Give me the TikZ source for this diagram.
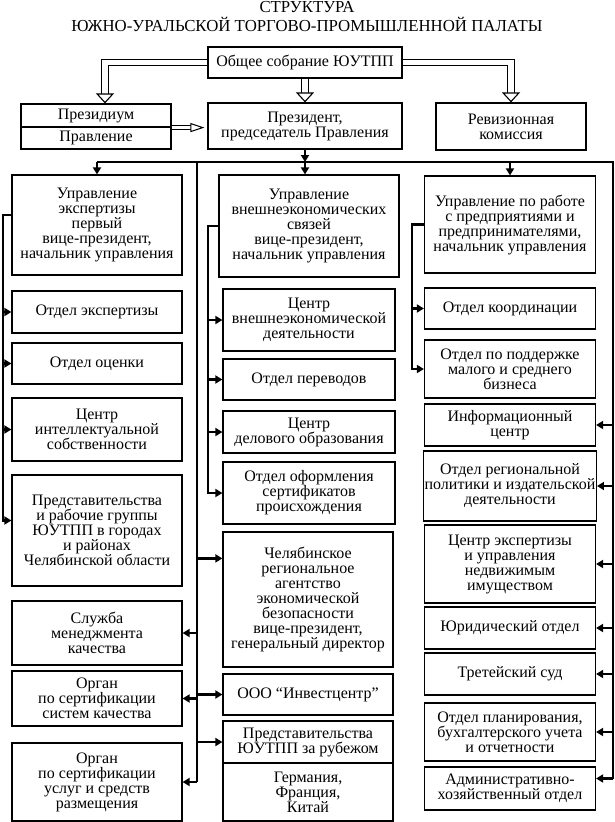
\documentclass[tikz,border=0pt]{standalone}
\usepackage{fontspec}
\setmainfont{Liberation Serif}
\usetikzlibrary{arrows.meta, calc}

\begin{document}
\begin{tikzpicture}[x=1pt, y=-1pt,
    % Style definitions
    box/.style={
        draw, line width=1.2pt, align=center, inner sep=1pt,
        font=\fontsize{16}{15}\selectfont
    },
    colbox/.style={
        box, minimum width=170pt
    },
    headbox/.style={
        box, minimum width=194pt
    },
    sidebox/.style={
        box, minimum width=150pt
    },
    titletext/.style={
        anchor=base, inner sep=0pt, font=\fontsize{16.8}{20}\selectfont
    },
    bus/.style={
        line width=2.6pt
    },
    feed/.style={
        bus, -{Triangle[length=7pt, width=8pt]}
    },
    dbl/.style={
        double, double distance=5.5pt, line width=1.1pt,
        -{Triangle[open, fill=white, line width=1.1pt, length=10pt, width=18pt]}
    },
    dblsmall/.style={
        double, double distance=3pt, line width=1pt, shorten >=3pt,
        -{Triangle[open, fill=white, line width=1pt, length=14pt, width=9pt]}
    },
]
\useasboundingbox (0,0) rectangle (615,822);

% Column positions
\def\colA{97}
\def\colB{309}
\def\colC{510}

% Rails
\coordinate (busy) at (0,162);
\coordinate (rail1) at (3,0);
\coordinate (trunk) at (197,0);
\coordinate (rail2) at (208,0);
\coordinate (rail3) at (412,0);
\coordinate (railR) at (613,0);

% === Title ===
\node[titletext] (title1) at (307,12.5) {СТРУКТУРА};
\node[titletext] (title2) at (307,31) {ЮЖНО-УРАЛЬСКОЙ ТОРГОВО-ПРОМЫШЛЕННОЙ ПАЛАТЫ};

% === Top level ===
\node[headbox, minimum height=31pt] (gen) at (305,62.5) {Общее собрание ЮУТПП};
\node[sidebox, minimum height=23pt] (prezA) at (96,115.5) {Президиум};
\node[sidebox, minimum height=22pt] (prezB) at (96,138) {Правление};
\node[headbox, minimum height=46pt] (pres) at (305,126) {Президент,\\председатель Правления};
\node[sidebox, minimum height=47pt] (rev) at (511,126.5) {Ревизионная\\комиссия};

% === Column 1 ===
\node[colbox, minimum height=100pt] (h1) at (\colA,225) {Управление\\экспертизы\\первый\\вице-президент,\\начальник управления};
\node[colbox, minimum height=42pt] (c1a) at (\colA,312) {Отдел экспертизы};
\node[colbox, minimum height=41pt] (c1b) at (\colA,363.5) {Отдел оценки};
\node[colbox, minimum height=63pt] (c1c) at (\colA,429.5) {Центр\\интеллектуальной\\собственности};
\node[colbox, minimum height=111pt] (c1d) at (\colA,530.5) {Представительства\\и рабочие группы\\ЮУТПП в городах\\и районах\\Челябинской области};
\node[colbox, minimum height=64pt] (c1e) at (\colA,633) {Служба\\менеджмента\\качества};
\node[colbox, minimum height=55pt] (c1f) at (\colA,698.5) {Орган\\по сертификации\\систем качества};
\node[colbox, minimum height=78pt] (c1g) at (\colA,782) {Орган\\по сертификации\\услуг и средств\\размещения};

% === Column 2 ===
\node[colbox, minimum width=180pt, minimum height=102pt] (h2) at (\colB,226) {Управление\\внешнеэкономических\\связей\\вице-президент,\\начальник управления};
\node[colbox, minimum width=172pt, minimum height=62pt] (c2a) at (\colB,320) {Центр\\внешнеэкономической\\деятельности};
\node[colbox, minimum width=172pt, minimum height=41pt] (c2b) at (\colB,379.5) {Отдел переводов};
\node[colbox, minimum width=172pt, minimum height=42pt] (c2c) at (\colB,432) {Центр\\делового образования};
\node[colbox, minimum width=172pt, minimum height=62pt] (c2d) at (\colB,493) {Отдел оформления\\сертификатов\\происхождения};
\node[colbox, minimum height=135pt] (c2e) at (308,599.5) {Челябинское\\региональное\\агентство\\экономической\\безопасности\\вице-президент,\\генеральный директор};
\node[colbox, minimum height=41pt] (c2f) at (308,694.5) {ООО “Инвестцентр”};
\node[colbox, minimum height=42pt] (c2g) at (308,742) {Представительства\\ЮУТПП за рубежом};
\node[colbox, minimum height=58pt] (c2h) at (308,792) {Германия,\\Франция,\\Китай};

% === Column 3 ===
\node[colbox, minimum width=171pt, minimum height=97pt] (h3) at (\colC,224.5) {Управление по работе\\с предприятиями и\\предпринимателями,\\начальник управления};
\node[colbox, minimum width=171pt, minimum height=41pt] (c3a) at (\colC,308.5) {Отдел координации};
\node[colbox, minimum width=171pt, minimum height=58pt] (c3b) at (\colC,369) {Отдел по поддержке\\малого и среднего\\бизнеса};
\node[colbox, minimum width=171pt, minimum height=42pt] (c3c) at (\colC,425) {Информационный\\центр};
\node[colbox, minimum width=171pt, minimum height=70pt] (c3d) at (\colC,486) {Отдел региональной\\политики и издательской\\деятельности};
\node[colbox, minimum width=171pt, minimum height=78pt] (c3e) at (\colC,564) {Центр экспертизы\\и управления\\недвижимым\\имуществом};
\node[colbox, minimum width=171pt, minimum height=42pt] (c3f) at (\colC,628) {Юридический отдел};
\node[colbox, minimum width=171pt, minimum height=42pt] (c3g) at (\colC,674) {Третейский суд};
\node[colbox, minimum width=171pt, minimum height=58pt] (c3h) at (\colC,732) {Отдел планирования,\\бухгалтерского учета\\и отчетности};
\node[colbox, minimum width=171pt, minimum height=43pt] (c3i) at (\colC,788.5) {Административно-\\хозяйственный отдел};

% Entry points that sit off the box centres
\coordinate (c1dIn) at ($(c1d.west)+(0,-10)$);
\coordinate (c2eIn) at ($(c2e.north west)+(0,27)$);
\coordinate (c3iIn) at ($(c3i.east)+(0,-10)$);

% === Double arrows from the general meeting ===
\draw[dbl] (gen.west) -| ($(prezA.north)+(9,0)$);
\draw[dbl] (gen) -- (pres);
\draw[dbl] (gen.east) -| (rev.north);
\draw[dblsmall] (prezA.south east) -- (prezA.south east -| pres.west);

% === Main bus ===
\draw[feed] (pres) -- (pres.south |- busy);
\draw[bus] (h1.north |- busy) -- (railR |- busy) -- (railR |- c3iIn);
\draw[feed] (h1.north |- busy) -- (h1);
\draw[feed] (pres.south |- busy) -- (h2.north -| pres.south);
\draw[feed] (h3.north |- busy) -- (h3);

% === Trunk between columns 1 and 2 ===
\draw[bus] (trunk |- busy) -- (trunk |- c1g.east);
\foreach \b in {c1e, c1f, c1g}
    \draw[feed] (trunk |- \b.east) -- (\b.east);
\draw[feed] (trunk |- c2eIn) -- (c2eIn);
\foreach \b in {c2f, c2g}
    \draw[feed] (trunk |- \b.west) -- (\b.west);

% === Column brackets ===
\draw[feed] ($(h1.west)+(0,-10)$) -| (rail1 |- c1dIn) -- (c1dIn);
\foreach \b in {c1a, c1b, c1c}
    \draw[feed] (rail1 |- \b.west) -- (\b.west);

\draw[feed] (h2.west) -| (rail2 |- c2d.west) -- (c2d.west);
\foreach \b in {c2a, c2b, c2c}
    \draw[feed] (rail2 |- \b.west) -- (\b.west);

\draw[feed] (h3.west) -| (rail3 |- c3b.west) -- (c3b.west);
\draw[feed] (rail3 |- c3a.west) -- (c3a.west);

% === Right rail ===
\foreach \b in {c3c, c3d, c3e, c3f, c3g, c3h}
    \draw[feed] (railR |- \b.east) -- (\b.east);
\draw[feed] (railR |- c3iIn) -- (c3iIn);

\end{tikzpicture}
\end{document}
